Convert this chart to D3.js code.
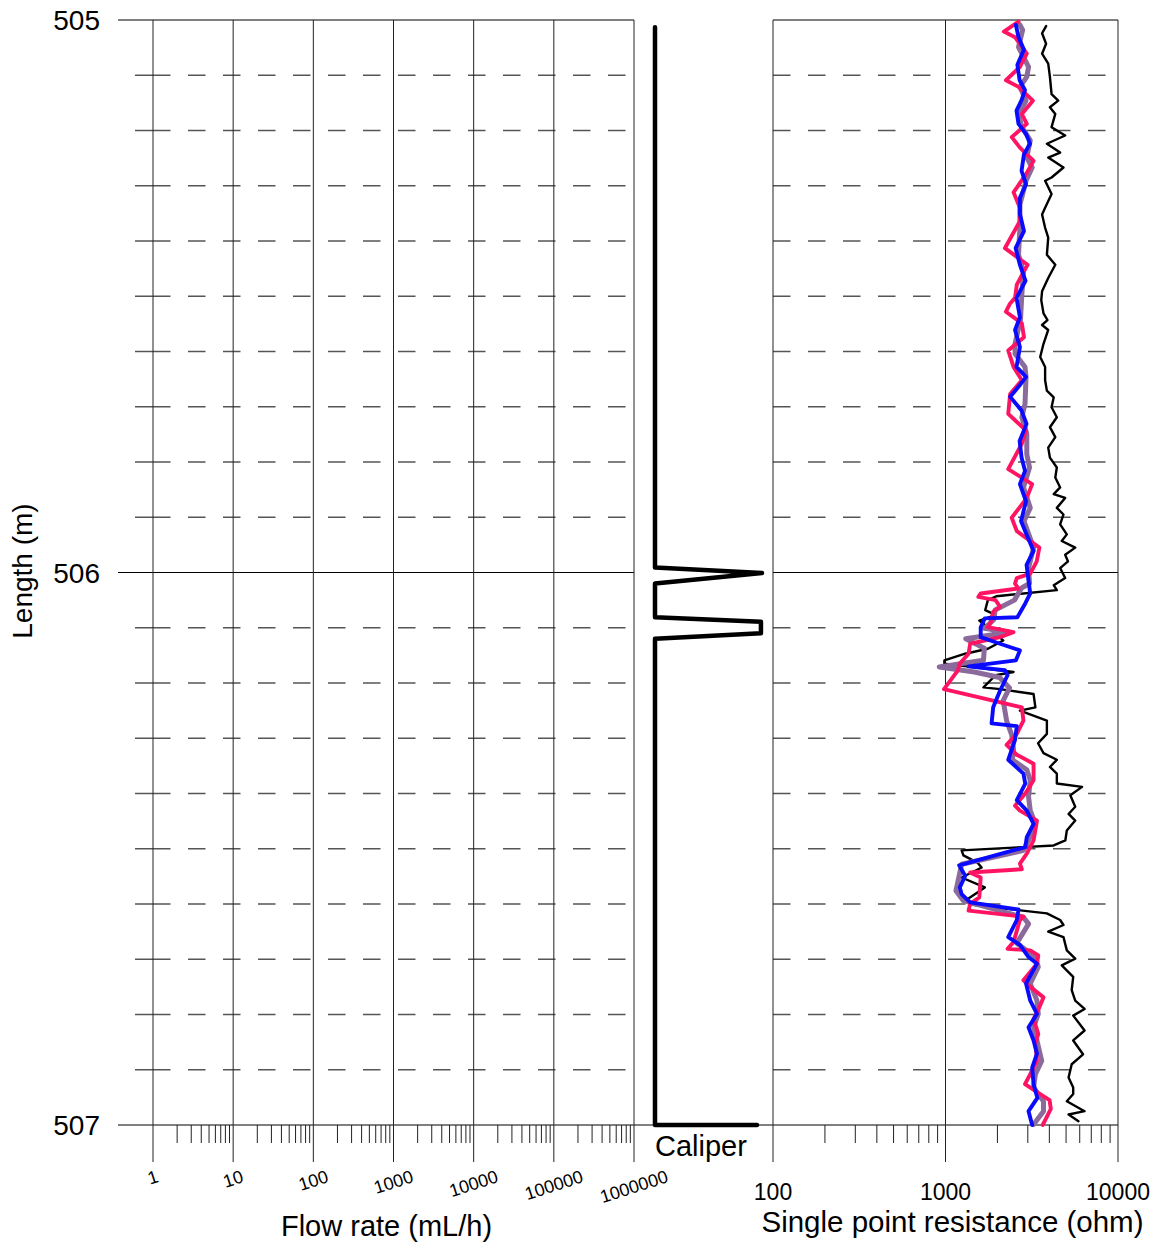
<!DOCTYPE html>
<html>
<head>
<meta charset="utf-8">
<script src="https://cdn.jsdelivr.net/npm/d3@7"></script>
<style>
  body { margin: 0; background: #fff; }
  svg { display: block; font-family: "Liberation Sans", Arial, sans-serif; }
</style>
</head>
<body>
<svg id="chart" width="1165" height="1246"></svg>
<script>
// ---- axis labels ----
const depthLabels = [505, 506, 507];
const flowTicks = [1, 10, 100, 1000, 10000, 100000, 1000000];
const resTicks = [100, 1000, 10000];

// ---- caliper log (arbitrary units, no scale shown) ----
const caliperDepth = [505.013, 505.991, 506.001, 506.020, 506.081, 506.089, 506.110, 506.120, 507.000, 507.000];
const caliperValue = [76, 76, 79, 76, 76, 78.97, 78.97, 76, 76, 78.86];

// ---- single point resistance logs (ohm) ----
const blackDepth = [505.011,505.024,505.043,505.061,505.079,505.103,505.134,505.146,505.158,505.170,505.194,505.209,505.224,505.240,505.249,505.267,505.285,505.291,505.315,505.340,505.352,505.376,505.394,505.425,505.443,505.467,505.491,505.507,505.531,505.543,505.552,505.561,505.586,505.610,505.628,505.652,505.671,505.683,505.701,505.719,505.737,505.755,505.774,505.792,505.810,505.828,505.846,505.858,505.865,505.883,505.895,505.913,505.931,505.943,505.955,505.968,505.980,505.992,506.010,506.023,506.032,506.043,506.050,506.068,506.077,506.087,506.099,506.123,506.138,506.147,506.159,506.165,506.180,506.186,506.208,506.211,506.220,506.244,506.250,506.268,506.292,506.309,506.327,506.339,506.352,506.364,506.382,506.388,506.403,506.424,506.437,506.449,506.467,506.485,506.494,506.497,506.503,506.512,506.525,506.534,506.552,506.570,506.594,506.602,506.617,506.629,506.638,506.650,506.660,506.684,506.699,506.711,506.732,506.756,506.775,506.790,506.802,506.829,506.847,506.872,506.890,506.914,506.932,506.944,506.957,506.975,506.981,506.993];
const blackRes = [3830,3630,3830,3630,3940,4030,4120,4500,4030,4330,4120,4940,3870,4620,3940,4830,4120,3780,4120,3780,3630,3780,3940,3870,4330,3940,3630,3590,3700,3900,3630,3940,3700,3540,3780,3780,3870,4240,4120,4420,4030,4330,3940,4030,4420,4330,4620,4240,4940,4420,4830,4620,5050,4720,5650,4940,5130,4620,4940,4240,4420,1970,1760,1700,1950,1570,1760,2160,1760,1300,985,985,2480,1950,1660,2070,3240,3320,2700,3870,3870,3440,3700,4420,4030,4420,4420,6190,5290,5650,5170,5650,5050,4950,4240,2830,1240,1270,1530,1620,1240,1690,1300,1470,3870,4620,4830,3940,4830,5050,5650,4720,5500,5390,5650,6400,5500,6400,5500,6270,5390,5170,5500,5500,5050,6400,5170,5900];

const purpleDepth = [505.009,505.018,505.049,505.085,505.103,505.121,505.146,505.170,505.194,505.218,505.249,505.267,505.291,505.334,505.376,505.425,505.455,505.497,505.543,505.586,505.604,505.628,505.646,505.695,505.719,505.749,505.786,505.810,505.846,505.883,505.907,505.955,505.992,506.020,506.028,506.050,506.068,506.086,506.101,506.108,506.120,506.137,506.159,506.171,506.180,506.190,506.209,506.232,506.268,506.294,506.321,506.339,506.357,506.376,506.406,506.431,506.455,506.485,506.503,506.528,506.576,506.594,506.624,506.636,506.671,506.696,506.714,506.744,506.775,506.799,506.823,506.847,506.884,506.908,506.932,506.957,506.975,506.999];
const purpleRes = [2700,2800,2650,3030,2960,2700,2930,2650,2770,3100,2960,3180,2930,2700,2700,2650,2830,2770,2720,2530,2530,2890,2930,2890,2770,2960,2960,3070,2830,3100,2850,3240,3030,3070,2760,2510,1940,1900,1680,2350,1310,1680,1660,920,1470,2060,2350,2160,2260,2420,2480,2440,2960,3100,3030,3100,3320,3030,2830,1240,1150,1270,2830,3030,2590,3320,3450,3100,3390,3450,3240,3390,3610,3320,3240,3700,3700,3240];

const pinkDepth = [505.003,505.021,505.031,505.061,505.085,505.109,505.121,505.146,505.170,505.188,505.212,505.231,505.255,505.279,505.312,505.340,505.364,505.413,505.443,505.479,505.503,505.513,505.528,505.549,505.574,505.598,505.628,505.652,505.677,505.713,505.743,505.767,505.813,505.840,505.865,505.901,505.925,505.955,505.980,506.002,506.010,506.020,506.029,506.038,506.044,506.050,506.062,506.071,506.090,506.099,506.108,506.117,506.129,506.147,506.165,506.177,506.211,506.244,506.268,506.292,506.312,506.330,506.346,506.376,506.400,506.422,506.431,506.449,506.485,506.509,506.527,506.537,506.543,506.552,506.588,506.600,506.612,506.623,506.629,506.669,506.681,506.684,506.693,506.708,506.738,506.750,506.769,506.787,506.808,506.835,506.853,506.884,506.908,506.926,506.944,506.955,506.971,507.000];
const pinkRes = [2650,2180,2530,2960,2700,2240,2650,3210,2770,2960,2420,2700,3240,2930,2480,2700,2700,2210,2990,2590,2530,2370,2240,2770,2850,2310,2480,2770,2370,2310,2930,2770,2310,3180,2960,2420,2590,3500,3380,3100,2590,2530,2650,1600,1550,1950,2070,1890,1830,1760,2480,2070,1390,1360,1210,1180,980,2770,2830,2590,2260,2590,3240,3240,2900,2530,2700,3390,3240,2960,2700,2770,1390,1600,1570,1390,1360,2830,2700,2480,2290,3100,3450,3390,2830,3100,3700,3500,3240,3450,3320,3390,3100,2890,3540,4010,4080,3660];

const blueDepth = [505.009,505.031,505.054,505.081,505.109,505.127,505.145,505.164,505.188,505.206,505.224,505.243,505.273,505.297,505.322,505.351,505.382,505.413,505.443,505.472,505.503,505.538,505.561,505.592,505.628,505.646,505.664,505.682,505.707,505.731,505.762,505.792,505.816,505.840,505.871,505.907,505.931,505.961,505.986,506.015,506.038,506.056,506.081,506.083,506.099,506.117,506.129,506.141,506.159,506.170,506.177,506.186,506.214,506.244,506.273,506.278,506.303,506.339,506.364,506.382,506.412,506.431,506.455,506.479,506.497,506.530,506.549,506.570,506.582,506.597,506.610,506.629,506.660,506.674,506.696,506.708,506.744,506.775,506.799,506.823,506.847,506.871,506.896,506.926,506.951,506.975,507.000];
const blueRes = [2560,2650,2850,2610,2690,2890,2760,2580,2650,2930,3090,2850,2760,2930,2700,2700,2850,2550,2700,2910,2580,2700,2530,2700,2580,2930,2650,2370,2760,2950,2690,2760,2890,2700,2930,2740,2950,3240,2950,3030,3100,2900,2610,1690,1600,1600,2070,2700,2560,1360,2210,2290,2070,1890,1850,2590,2530,2310,2830,2900,2590,2960,3240,2960,2900,1200,1300,1210,1240,1390,2650,2590,2310,2700,3030,3390,2930,3100,3390,3030,3240,3390,3180,3240,3410,3030,3180];

// ---- layout ----
const yTop = 20, yBot = 1125;
const majorLen = 37, minorLen = 18;

const svg = d3.select("#chart");
const y = d3.scaleLinear().domain([505, 507]).range([yTop, yBot]);
const xFlow = d3.scaleLog().domain([1, 1e6]).range([153, 634]);
const xCal = d3.scaleLinear().domain([76, 79]).range([655, 762]);
const xRes = d3.scaleLog().domain([100, 10000]).range([773, 1118]);

const flowL = xFlow.range()[0], flowR = xFlow.range()[1];
const resL = xRes.range()[0], resR = xRes.range()[1];
const isMajor = v => Math.abs(Math.log10(v) - Math.round(Math.log10(v))) < 1e-9;

const grid = svg.append("g");

// minor depth lines every 0.1 m (dashed)
const minorDepths = d3.range(1, 20).map(i => 505 + i / 10).filter(d => Math.abs(d - 506) > 1e-9);
minorDepths.forEach(d => {
  grid.append("line").attr("x1", flowL - minorLen).attr("x2", flowL)
    .attr("y1", y(d)).attr("y2", y(d)).attr("stroke", "#555").attr("stroke-width", 1.5);
  grid.append("line").attr("x1", flowL).attr("x2", flowR)
    .attr("y1", y(d)).attr("y2", y(d)).attr("stroke", "#555").attr("stroke-width", 1.5)
    .attr("stroke-dasharray", "17.5,17.5");
  grid.append("line").attr("x1", resL).attr("x2", resR)
    .attr("y1", y(d)).attr("y2", y(d)).attr("stroke", "#555").attr("stroke-width", 1.5)
    .attr("stroke-dasharray", "17.5,17.5");
});

// major depth lines
depthLabels.forEach(d => {
  if (d !== 507) {
    grid.append("line").attr("x1", flowL - 35).attr("x2", flowR)
      .attr("y1", y(d)).attr("y2", y(d)).attr("stroke", "#000").attr("stroke-width", 1);
    grid.append("line").attr("x1", resL).attr("x2", resR)
      .attr("y1", y(d)).attr("y2", y(d)).attr("stroke", "#000").attr("stroke-width", 1);
  }
});
// bottom axis line across all panels
grid.append("line").attr("x1", flowL - 35).attr("x2", resR)
  .attr("y1", yBot).attr("y2", yBot).attr("stroke", "#000").attr("stroke-width", 1);

// flow-rate ticks and vertical grid
xFlow.ticks().forEach(v => {
  const x = xFlow(v);
  const major = isMajor(v);
  grid.append("line").attr("x1", x).attr("x2", x)
    .attr("y1", major ? yTop : yBot).attr("y2", yBot + (major ? majorLen : minorLen))
    .attr("stroke", "#222").attr("stroke-width", 1);
});

// resistance ticks and vertical grid
xRes.ticks().forEach(v => {
  const x = xRes(v);
  const major = isMajor(v);
  grid.append("line").attr("x1", x).attr("x2", x)
    .attr("y1", major ? yTop : yBot).attr("y2", yBot + (major ? majorLen : minorLen))
    .attr("stroke", "#222").attr("stroke-width", 1);
});

// ---- text ----
depthLabels.forEach(d => {
  svg.append("text").attr("x", 100).attr("y", y(d) + 10)
    .attr("text-anchor", "end").attr("font-size", 28).attr("fill", "#000").text(d);
});

svg.append("text").attr("transform", "translate(32,571) rotate(-90)")
  .attr("text-anchor", "middle").attr("font-size", 28).attr("fill", "#000").text("Length (m)");

const sin18 = Math.sin(18 * Math.PI / 180);
flowTicks.forEach(v => {
  const t = svg.append("text").attr("text-anchor", "middle").attr("dominant-baseline", "central")
    .attr("font-size", 18).attr("fill", "#000").text(d3.format("d")(v));
  const w = t.node().getComputedTextLength();
  t.attr("transform", `translate(${xFlow(v)},${1176 + (w / 2) * sin18}) rotate(-18)`);
});

svg.append("text").attr("x", (flowL + flowR) / 2 - 7).attr("y", 1236)
  .attr("text-anchor", "middle").attr("font-size", 29).attr("fill", "#000").text("Flow rate (mL/h)");

resTicks.forEach(v => {
  svg.append("text").attr("x", xRes(v)).attr("y", 1200)
    .attr("text-anchor", "middle").attr("font-size", 23).attr("fill", "#000").text(d3.format("d")(v));
});

svg.append("text").attr("x", (resL + resR) / 2 + 7).attr("y", 1232)
  .attr("text-anchor", "middle").attr("font-size", 29.5).attr("fill", "#000").text("Single point resistance (ohm)");

svg.append("text").attr("x", 655).attr("y", 1156)
  .attr("text-anchor", "start").attr("font-size", 29).attr("fill", "#000").text("Caliper");

// ---- caliper ----
const zip = (ds, vs) => ds.map((d, i) => ({ d, v: vs[i] }));
svg.append("path")
  .datum(zip(caliperDepth, caliperValue))
  .attr("fill", "none").attr("stroke", "#000").attr("stroke-width", 4.5)
  .attr("stroke-linejoin", "round").attr("stroke-linecap", "round")
  .attr("d", d3.line().x(p => xCal(p.v)).y(p => y(p.d)));

// ---- resistance curves ----
const resLine = d3.line().x(p => xRes(p.v)).y(p => y(p.d));
const series = [
  { depth: blackDepth, res: blackRes, color: "#000000", width: 2.4 },
  { depth: purpleDepth, res: purpleRes, color: "#8b6a9c", width: 5 },
  { depth: pinkDepth, res: pinkRes, color: "#ff1464", width: 3.9 },
  { depth: blueDepth, res: blueRes, color: "#0a0aff", width: 3.9 }
];
series.forEach(s => {
  svg.append("path")
    .datum(zip(s.depth, s.res))
    .attr("fill", "none").attr("stroke", s.color).attr("stroke-width", s.width)
    .attr("stroke-linejoin", "round").attr("stroke-linecap", "round")
    .attr("d", resLine);
});
</script>
</body>
</html>
